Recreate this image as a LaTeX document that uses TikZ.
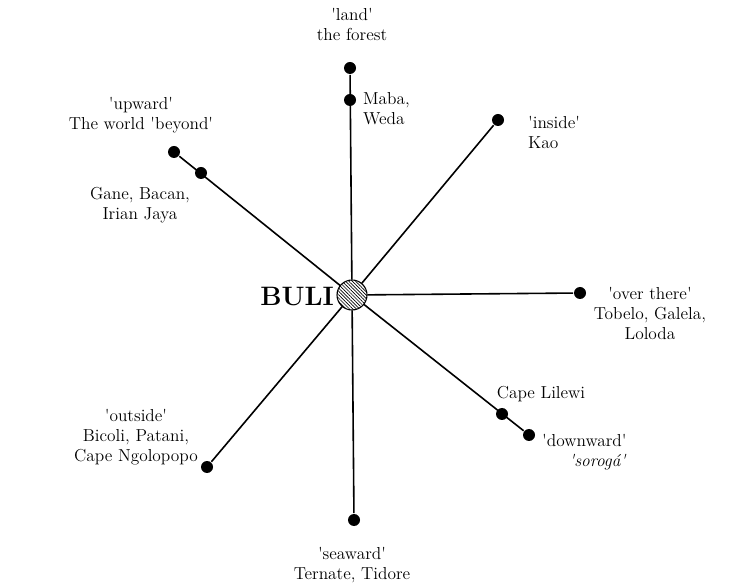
\documentclass[tikz,border=0pt]{standalone}
\usepackage{tikz}
\usetikzlibrary{patterns.meta}
\newcommand{\sq}[1]{\textquotesingle#1\textquotesingle}
\tikzset{dot/.style={circle, fill, inner sep=0pt, minimum size=9pt},
  lbl/.style={font=\fontsize{13}{15}\selectfont, align=center, inner sep=1pt}}

\begin{document}
\begin{tikzpicture}[x=0.75pt, y=-0.75pt, line width=1.2pt]
  \useasboundingbox (0,0) rectangle (739,584);
  % centre and the eight directions
  \node[circle, draw, line width=0.8pt, minimum size=22.5pt, inner sep=0pt,
    pattern={Lines[angle=-45, distance=1.8pt, line width=0.5pt]}] (buli) at (352,295) {};
  \node[dot] (land)   at (350,68)  {};
  \node[dot] (maba)   at (350,100) {};
  \node[dot] (inside) at (498,120) {};
  \node[dot] (over)   at (580,293) {};
  \node[dot] (lilewi) at (502,414) {};
  \node[dot] (down)   at (529,435) {};
  \node[dot] (sea)    at (354,520) {};
  \node[dot] (out)    at (207,467) {};
  \node[dot] (up)     at (174,152) {};
  \node[dot] (gane)   at (201,173) {};
  \draw (buli) -- (land);
  \draw (buli) -- (inside);
  \draw (buli) -- (over);
  \draw (buli) -- (down);
  \draw (buli) -- (sea);
  \draw (buli) -- (out);
  \draw (buli) -- (up);
  % labels
  \node[lbl, font=\fontsize{20}{22}\selectfont\bfseries, anchor=east] (name) at (336,297) {BULI};
  \node[lbl] (tland) at (352,24) {\sq{land}\\the forest};
  \node[lbl, anchor=west, align=left] (tmaba) at (361,109) {Maba,\\Weda};
  \node[lbl, anchor=west, align=left] (tinside) at (526,132) {\sq{inside}\\Kao};
  \node[lbl] (tover) at (650,313) {\sq{over there}\\Tobelo, Galela,\\Loloda};
  \node[lbl] (tlilewi) at (541,394) {Cape Lilewi};
  \node[lbl, anchor=west, align=right] (tdown) at (540,452) {\sq{downward}\\\textit{\sq{sorog\'a}}};
  \node[lbl] (tsea) at (352,565) {\sq{seaward}\\Ternate, Tidore};
  \node[lbl] (tout) at (136,437) {\sq{outside}\\Bicoli, Patani,\\Cape Ngolopopo};
  \node[lbl] (tup) at (141,115) {\sq{upward}\\The world \sq{beyond}};
  \node[lbl] (tgane) at (140,205) {Gane, Bacan,\\Irian Jaya};
\end{tikzpicture}
\end{document}
